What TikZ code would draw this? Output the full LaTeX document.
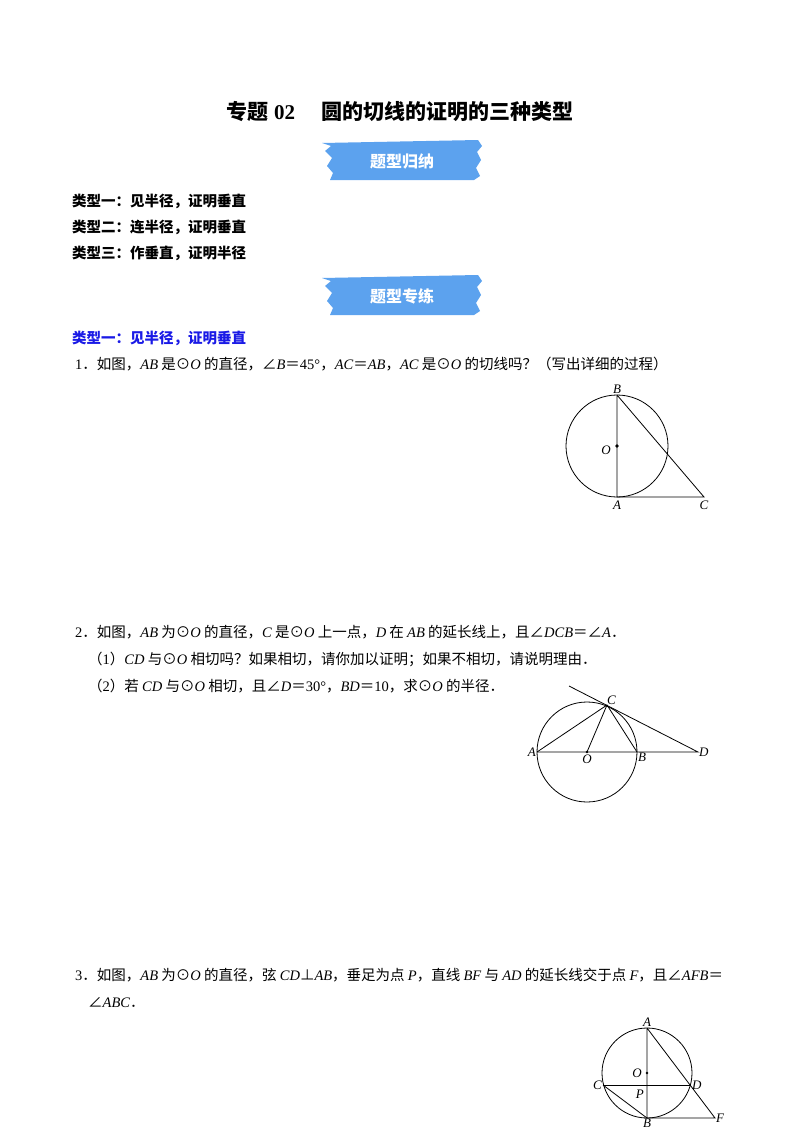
\documentclass[tikz,border=0pt]{standalone}
\usepackage{fontspec}
\setmainfont{Noto Sans CJK SC}
\newfontfamily\tnr{Liberation Serif}
\newcommand{\mi}[1]{{\tnr\itshape #1}}
\newcommand{\nr}[1]{{\tnr #1}}
\definecolor{bannerblue}{HTML}{5CA2EE}
\definecolor{typeblue}{HTML}{1A1AE6}
\begin{document}
\begin{tikzpicture}[x=1pt,y=-1pt,
  txt/.style={anchor=base west,inner sep=0pt,font=\fontsize{14.5}{16}\selectfont},
  bold/.style={txt,font=\fontsize{14.5}{16}\selectfont\bfseries},
  lbl/.style={inner sep=1pt,font=\fontsize{13}{13}\selectfont\tnr\itshape},
  geo/.style={line width=0.8pt},
  dot/.style={circle,fill,inner sep=1.3pt}]
\useasboundingbox (0,0) rectangle (800,1132);
% title
\node[anchor=base,inner sep=0pt,font=\fontsize{21}{24}\selectfont\bfseries] (title) at (400,119) {专题{\tnr\bfseries\ 02}\quad\ 圆的切线的证明的三种类型};
% banners
\foreach \y/\t/\n in {140/题型归纳/b1,275/题型专练/b2}{
  \fill[bannerblue] (322,\y+3) -- (478,\y) -- (482,\y+6) -- (477,\y+12) -- (481,\y+20) -- (476,\y+28) -- (480,\y+36) -- (474,\y+40)
    -- (330,\y+40) -- (333,\y+33) -- (327,\y+26) -- (332,\y+18) -- (325,\y+11) -- (331,\y+6) -- cycle;
  \node[text=white,font=\fontsize{16}{18}\selectfont\bfseries] (\n) at (402,\y+21) {\t};
}
\node[bold] (t1) at (72,206) {类型一：见半径，证明垂直};
\node[bold] (t2) at (72,232) {类型二：连半径，证明垂直};
\node[bold] (t3) at (72,258) {类型三：作垂直，证明半径};
\node[bold,text=typeblue] (s1) at (72,343) {类型一：见半径，证明垂直};
\node[txt] (q1) at (75,369) {\nr{1}．如图，\mi{AB} 是⊙\mi{O} 的直径，∠\mi{B}＝\nr{45°}，\mi{AC}＝\mi{AB}，\mi{AC} 是⊙\mi{O} 的切线吗？（写出详细的过程）};
\node[txt] (q2) at (75,637) {\nr{2}．如图，\mi{AB} 为⊙\mi{O} 的直径，\mi{C} 是⊙\mi{O} 上一点，\mi{D} 在 \mi{AB} 的延长线上，且∠\mi{DCB}＝∠\mi{A}．};
\node[txt] (q21) at (88,664) {（\nr{1}）\mi{CD} 与⊙\mi{O} 相切吗？如果相切，请你加以证明；如果不相切，请说明理由．};
\node[txt] (q22) at (88,691) {（\nr{2}）若 \mi{CD} 与⊙\mi{O} 相切，且∠\mi{D}＝\nr{30°}，\mi{BD}＝\nr{10}，求⊙\mi{O} 的半径．};
\node[txt] (q3) at (75,980) {\nr{3}．如图，\mi{AB} 为⊙\mi{O} 的直径，弦 \mi{CD}⊥\mi{AB}，垂足为点 \mi{P}，直线 \mi{BF} 与 \mi{AD} 的延长线交于点 \mi{F}，且∠\mi{AFB}＝};
\node[txt] (q31) at (88,1007) {∠\mi{ABC}．};
% figure 1
\coordinate (O1) at (617,446);
\coordinate (B1) at (617,395);
\coordinate (A1) at (617,497);
\coordinate (C1) at (704,497);
\draw[geo] (O1) circle (51);
\draw[geo] (B1) -- (A1) -- (C1) -- (B1);
\node[dot] at (O1) {};
\node[lbl,above] at (B1) {B};
\node[lbl,left] at (612,450) {O};
\node[lbl,below=3pt] at (A1) {A};
\node[lbl,below=3pt] at (C1) {C};
% figure 2
\coordinate (O2) at (587,752);
\coordinate (A2) at (537,752);
\coordinate (B2) at (637,752);
\coordinate (C2) at (607,705);
\coordinate (D2) at (698,752);
\coordinate (T2) at (569,686);
\draw[geo] (O2) circle (50);
\draw[geo] (A2) -- (D2) -- (T2);
\draw[geo] (A2) -- (C2) -- (B2);
\draw[geo] (O2) -- (C2);
\node[dot,inner sep=1pt] at (O2) {};
\node[lbl,left] at (A2) {A};
\node[lbl,below=2pt] at (O2) {O};
\node[lbl,below right=0pt] at (B2) {B};
\node[lbl,above right=-1pt] at (C2) {C};
\node[lbl,right] at (D2) {D};
% figure 3
\coordinate (O3) at (647,1073);
\coordinate (A3) at (647,1028);
\coordinate (B3) at (647,1118);
\coordinate (P3) at (647,1085);
\coordinate (C3) at (603,1085);
\coordinate (D3) at (691,1085);
\coordinate (F3) at (715,1118);
\draw[geo] (O3) circle (45);
\draw[geo] (A3) -- (B3) -- (F3) -- (A3);
\draw[geo] (C3) -- (D3);
\draw[geo] (C3) -- (B3);
\node[dot,inner sep=1pt] at (O3) {};
\node[lbl,above] at (A3) {A};
\node[lbl,left] at (643,1073) {O};
\node[lbl,left] at (C3) {C};
\node[lbl,right] at (D3) {D};
\node[lbl,left] at (645,1094) {P};
\node[lbl,below] at (B3) {B};
\node[lbl,right] at (F3) {F};
\end{tikzpicture}
\end{document}
